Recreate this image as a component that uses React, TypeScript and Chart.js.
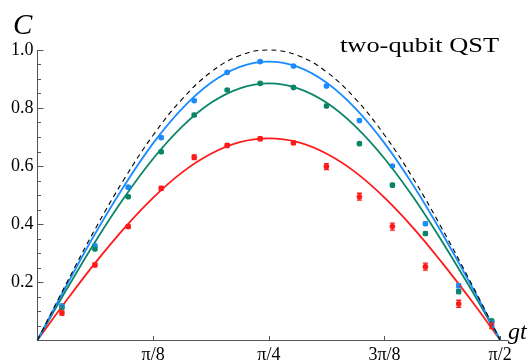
import { useEffect, useRef } from "react";
import { Chart, registerables } from "chart.js";
Chart.register(...registerables);

// theory-curve sample positions (gt, radians)
const curveX = [0, 0.098, 0.196, 0.295, 0.393, 0.491, 0.589, 0.687, 0.785, 0.884, 0.982, 1.08, 1.178, 1.276, 1.374, 1.473, 1.571];
const idealCurve = [0, 0.195, 0.383, 0.556, 0.707, 0.831, 0.924, 0.981, 1.0, 0.981, 0.924, 0.831, 0.707, 0.556, 0.383, 0.195, 0];
const blueCurve = [0, 0.187, 0.367, 0.533, 0.679, 0.798, 0.887, 0.942, 0.96, 0.942, 0.887, 0.798, 0.679, 0.533, 0.367, 0.187, 0];
const greenCurve = [0, 0.173, 0.339, 0.492, 0.626, 0.736, 0.818, 0.868, 0.885, 0.868, 0.818, 0.736, 0.626, 0.492, 0.339, 0.173, 0];
const redCurve = [0, 0.136, 0.266, 0.386, 0.491, 0.578, 0.642, 0.682, 0.695, 0.682, 0.642, 0.578, 0.491, 0.386, 0.266, 0.136, 0];

// measured points
const pointX = [0.083, 0.195, 0.308, 0.42, 0.532, 0.644, 0.756, 0.869, 0.981, 1.093, 1.205, 1.317, 1.43, 1.542];
const bluePts = [0.118, 0.325, 0.527, 0.698, 0.825, 0.923, 0.96, 0.945, 0.876, 0.757, 0.6, 0.401, 0.187, 0.062];
const greenPts = [0.112, 0.314, 0.494, 0.649, 0.776, 0.862, 0.885, 0.871, 0.807, 0.677, 0.534, 0.367, 0.167, 0.066];
const redPts = [0.093, 0.259, 0.391, 0.523, 0.63, 0.671, 0.694, 0.68, 0.598, 0.494, 0.391, 0.253, 0.125, 0.049];
const blueErr = [0.005, 0.005, 0.005, 0.005, 0.005, 0.004, 0.004, 0.004, 0.005, 0.005, 0.005, 0.006, 0.007, 0.005];
const greenErr = [0.005, 0.005, 0.005, 0.005, 0.005, 0.004, 0.004, 0.004, 0.005, 0.005, 0.006, 0.006, 0.007, 0.005];
const redErr = [0.007, 0.006, 0.006, 0.007, 0.008, 0.005, 0.006, 0.006, 0.01, 0.012, 0.012, 0.012, 0.012, 0.01];

const xTickValues = [Math.PI / 8, Math.PI / 4, (3 * Math.PI) / 8, Math.PI / 2];
const xTickLabels = ["π/8", "π/4", "3π/8", "π/2"];
const yTickValues = [0.2, 0.4, 0.6, 0.8, 1.0];
const yTickLabels = ["0.2", "0.4", "0.6", "0.8", "1.0"];
const yMinorStep = 0.05;

const BLUE = "#1a8cff";
const GREEN = "#0a8567";
const RED = "#ff1a1a";

const SERIF = "'Liberation Serif'";

function zip(xs: number[], ys: number[]) {
  return xs.map((x, i) => ({ x, y: ys[i] }));
}

const errorBars = {
  id: "errorBars",
  afterDatasetsDraw(chart: any) {
    const ctx = chart.ctx;
    const ys = chart.scales.y;
    chart.data.datasets.forEach((ds: any, di: number) => {
      if (!ds.errors) return;
      const meta = chart.getDatasetMeta(di);
      ctx.save();
      ctx.strokeStyle = ds.borderColor;
      ctx.lineWidth = 1.3;
      meta.data.forEach((el: any, i: number) => {
        const v = ds.data[i].y;
        const e = ds.errors[i];
        const x = el.x;
        const y1 = ys.getPixelForValue(v - e);
        const y2 = ys.getPixelForValue(v + e);
        ctx.beginPath();
        ctx.moveTo(x, y1);
        ctx.lineTo(x, y2);
        ctx.moveTo(x - 2.5, y1);
        ctx.lineTo(x + 2.5, y1);
        ctx.moveTo(x - 2.5, y2);
        ctx.lineTo(x + 2.5, y2);
        ctx.stroke();
      });
      ctx.restore();
    });
  },
};

const decorations = {
  id: "decorations",
  afterDraw(chart: any) {
    const ctx = chart.ctx;
    const xs = chart.scales.x;
    const ys = chart.scales.y;
    const area = chart.chartArea;
    ctx.save();
    ctx.strokeStyle = "#555";
    ctx.lineWidth = 1;
    for (let v = 0.05; v <= 1.0001; v += yMinorStep) {
      const y = Math.round(ys.getPixelForValue(v)) + 0.5;
      const major = Math.abs(v / 0.2 - Math.round(v / 0.2)) < 1e-6;
      ctx.beginPath();
      ctx.moveTo(area.left, y);
      ctx.lineTo(area.left + (major ? 6 : 3.5), y);
      ctx.stroke();
    }
    xTickValues.forEach((v) => {
      const x = Math.round(xs.getPixelForValue(v)) + 0.5;
      ctx.beginPath();
      ctx.moveTo(x, area.bottom);
      ctx.lineTo(x, area.bottom - 4);
      ctx.stroke();
    });
    ctx.restore();

    ctx.save();
    ctx.fillStyle = "#000";
    ctx.textBaseline = "alphabetic";
    ctx.textAlign = "left";
    ctx.font = `italic 29px ${SERIF}`;
    ctx.fillText("C", 13, 34);
    ctx.font = `italic 24px ${SERIF}`;
    ctx.fillText("gt", 508, 339);
    ctx.translate(340, 52);
    ctx.scale(1.2, 1);
    ctx.font = `22px ${SERIF}`;
    ctx.fillText("two-qubit QST", 0, 0);
    ctx.restore();
  },
};

export default function App() {
  const ref = useRef<HTMLCanvasElement>(null);
  useEffect(() => {
    const lineDs = (data: number[], color: string, dash: number[] = [], width = 1.8) => ({
      type: "line" as const,
      data: zip(curveX, data),
      borderColor: color,
      backgroundColor: color,
      borderWidth: width,
      borderDash: dash,
      pointRadius: 0,
      tension: 0.4,
      showLine: true,
      fill: false,
      clip: false as any,
    });
    const ptDs = (data: number[], errs: number[], color: string) => ({
      type: "scatter" as const,
      data: zip(pointX, data),
      errors: errs,
      borderColor: color,
      backgroundColor: color,
      pointRadius: 2.8,
      pointBorderWidth: 0,
      showLine: false,
      clip: false as any,
    });
    const chart = new Chart(ref.current!, {
      type: "scatter",
      data: {
        datasets: [
          lineDs(idealCurve, "#000", [5, 4], 1.1),
          lineDs(blueCurve, BLUE),
          lineDs(greenCurve, GREEN),
          lineDs(redCurve, RED),
          ptDs(bluePts, blueErr, BLUE),
          ptDs(greenPts, greenErr, GREEN),
          ptDs(redPts, redErr, RED),
        ] as any,
      },
      options: {
        animation: false,
        responsive: false,
        maintainAspectRatio: false,
        layout: { padding: { top: 50, right: 22, left: 0, bottom: 0 } },
        plugins: { legend: { display: false }, tooltip: { enabled: false } },
        scales: {
          x: {
            type: "linear",
            min: 0,
            max: 1.594,
            grid: { display: false, drawTicks: false },
            border: { display: true, color: "#555", width: 1 },
            afterBuildTicks: (axis: any) => {
              axis.ticks = xTickValues.map((v) => ({ value: v }));
            },
            afterFit: (s: any) => {
              s.height = 24;
            },
            ticks: {
              autoSkip: false,
              maxRotation: 0,
              padding: 4,
              color: "#000",
              font: { family: SERIF, size: 18 },
              callback: (_v: any, i: number) => xTickLabels[i],
            },
          },
          y: {
            type: "linear",
            min: 0,
            max: 1.0,
            grid: { display: false, drawTicks: false },
            border: { display: true, color: "#555", width: 1 },
            afterBuildTicks: (axis: any) => {
              axis.ticks = yTickValues.map((v) => ({ value: v }));
            },
            afterFit: (s: any) => {
              s.width = 37.5;
            },
            ticks: {
              autoSkip: false,
              padding: 4,
              color: "#000",
              font: { family: SERIF, size: 18 },
              callback: (_v: any, i: number) => yTickLabels[i],
            },
          },
        },
      },
      plugins: [errorBars, decorations],
    });
    return () => chart.destroy();
  }, []);
  return (
    <div style={{ position: "fixed", left: 0, top: 0, width: 529, height: 364, background: "#fff" }}>
      <canvas ref={ref} width={529} height={364} style={{ display: "block" }} />
    </div>
  );
}
